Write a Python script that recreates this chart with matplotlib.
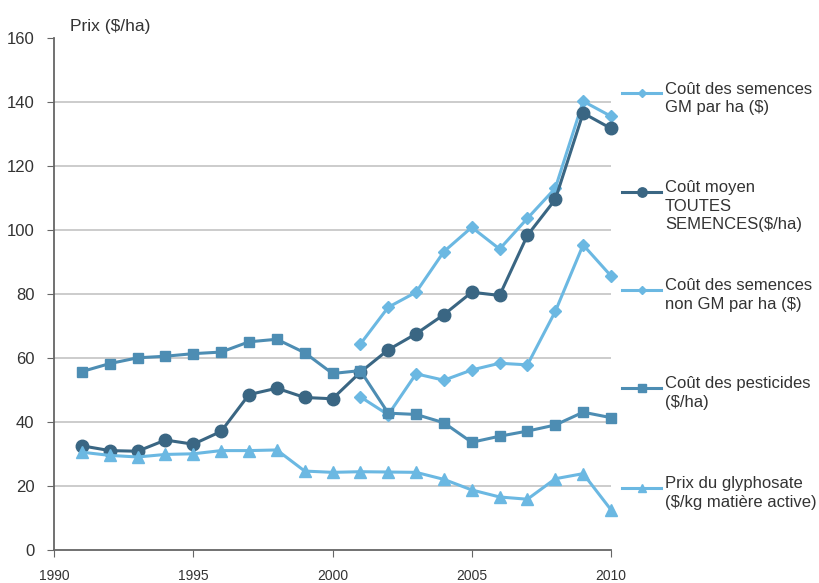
import matplotlib.pyplot as plt
from matplotlib.lines import Line2D

plt.rcParams['font.family'] = ['Liberation Sans', 'DejaVu Sans']

years = list(range(1991, 2011))
years_gm = list(range(2001, 2011))

cout_moyen = [32.5, 31.0, 30.8, 34.3, 33.0, 37.0, 48.5, 50.5, 47.6, 47.2,
              55.5, 62.5, 67.5, 73.5, 80.5, 79.5, 98.3, 109.5, 136.5, 131.7]
pesticides = [55.7, 58.2, 60.0, 60.5, 61.3, 61.8, 65.0, 65.8, 61.6, 55.1,
              56.0, 42.7, 42.3, 39.7, 33.6, 35.5, 37.1, 39.0, 43.0, 41.3]
glyphosate = [30.5, 29.5, 29.0, 29.8, 30.0, 31.0, 31.0, 31.2, 24.6, 24.2,
              24.4, 24.3, 24.2, 22.0, 18.7, 16.5, 15.8, 22.2, 23.8, 12.5]
semences_gm = [64.3, 75.8, 80.5, 93.2, 100.8, 94.0, 103.6, 113.0, 140.2, 135.5]
semences_non_gm = [47.8, 42.2, 55.0, 53.0, 56.2, 58.3, 57.8, 74.5, 95.3, 85.6]

labels = [
    "Coût des semences\nGM par ha ($)",
    "Coût moyen\nTOUTES\nSEMENCES($/ha)",
    "Coût des semences\nnon GM par ha ($)",
    "Coût des pesticides\n($/ha)",
    "Prix du glyphosate\n($/kg matière active)",
]

light = "#6bb8e2"
dark = "#3a6683"
mid = "#4d8db3"
text_col = "#333333"


def main():
    fig = plt.figure(figsize=(8.19, 5.83), dpi=100)
    ax = fig.add_axes([0.066, 0.057, 0.68, 0.878])

    series = [
        (years_gm, semences_gm, light, "D", 6),
        (years, cout_moyen, dark, "o", 9),
        (years_gm, semences_non_gm, light, "D", 6),
        (years, pesticides, mid, "s", 7),
        (years, glyphosate, light, "^", 8),
    ]
    # draw so the dark line sits on top of the light ones
    for idx in [4, 3, 2, 0, 1]:
        x, y, c, m, ms = series[idx]
        ln, = ax.plot(x, y, color=c, marker=m, markersize=ms, lw=2.2,
                      zorder=3 + idx * 0.1)
        ln.set_clip_on(False)

    ax.set_xlim(1990, 2010)
    ax.set_ylim(0, 160)
    ax.set_xticks([1990, 1995, 2000, 2005, 2010])
    ax.set_yticks(range(0, 161, 20))
    for v in range(20, 141, 20):
        ax.axhline(v, color="#c8c8c8", lw=1.3, zorder=1)

    for s in ["top", "right"]:
        ax.spines[s].set_visible(False)
    for s in ["left", "bottom"]:
        ax.spines[s].set_color("#666666")
        ax.spines[s].set_linewidth(1.3)
    ax.tick_params(axis="y", length=5, color="#666666", labelsize=12,
                   labelcolor=text_col, pad=9)
    ax.tick_params(axis="x", length=5, color="#666666", labelsize=10,
                   labelcolor=text_col, pad=9)

    fig.text(0.085, 0.942, "Prix ($/ha)", fontsize=12.5, color=text_col,
             ha="left", va="bottom")

    # custom legend on the right
    leg_y = [0.840, 0.671, 0.503, 0.335, 0.163]
    for (x, y, c, m, ms), lab, ly in zip(series, labels, leg_y):
        fig.add_artist(Line2D([0.760, 0.807], [ly, ly], color=c, lw=2.2,
                              transform=fig.transFigure))
        fig.add_artist(Line2D([0.7835], [ly], color=c, marker=m,
                              markersize=ms * 0.75, transform=fig.transFigure))
        fig.text(0.812, ly + 0.020, lab, fontsize=12, color=text_col,
                 ha="left", va="top", linespacing=1.3)

    fig.savefig("out.png", dpi=100)


if __name__ == "__main__":
    main()
